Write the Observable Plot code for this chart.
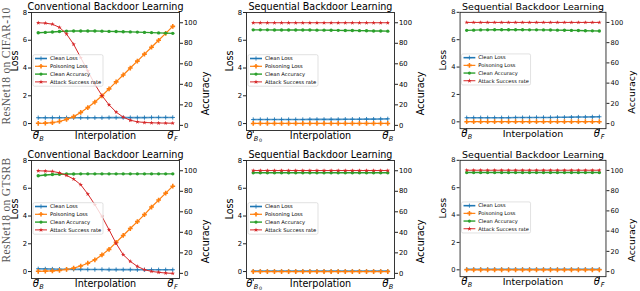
<!DOCTYPE html>
<html><head><meta charset="utf-8">
<script src="https://cdn.jsdelivr.net/npm/d3@7"></script>
<script src="https://cdn.jsdelivr.net/npm/@observablehq/plot@0.6"></script>
<style>
html,body{margin:0;padding:0;background:#fff;}
#wrap{position:relative;width:640px;height:291px;overflow:hidden;}
.panel{position:absolute;}
.rowlabel{position:absolute;font-family:"Liberation Serif";font-size:11.5px;color:#555;white-space:nowrap;transform:translate(-50%,-50%) rotate(-90deg);letter-spacing:0.3px;}
</style></head><body><div id="wrap"></div>
<script>
// ---- data ----
const steps = [0,1,2,3,4,5,6,7,8,9,10,11,12,13,14,15,16,17,18,19];
const seriesNames = ["Clean Loss","Poisoning Loss","Clean Accuracy","Attack Success rate"];
const colors = ["#1f77b4","#ff7f0e","#2ca02c","#d62728"];
const lossTicks = [0,2,4,6,8];
const accTicks = [0,20,40,60,80,100];
const rowLabels = ["ResNet18 on CIFAR-10","ResNet18 on GTSRB"];
const titles = ["Conventional Backdoor Learning","Sequential Backdoor Learning","Sequential Backdoor Learning"];
const xLabel = "Interpolation";

// CIFAR-10, conventional (θB -> θF)
const c1CleanLoss  = [0.42,0.42,0.42,0.42,0.42,0.42,0.42,0.42,0.42,0.42,0.43,0.43,0.43,0.43,0.43,0.43,0.44,0.44,0.44,0.44];
const c1PoisonLoss = [0.02,0.03,0.07,0.15,0.3,0.5,0.8,1.15,1.55,2.0,2.5,3.0,3.5,4.0,4.5,5.0,5.5,6.0,6.5,7.0];
const c1CleanAcc   = [90.2,90.6,91.0,91.5,91.8,92.0,92.0,92.0,91.9,91.8,91.6,91.5,91.3,91.1,90.9,90.6,90.4,90.1,89.9,89.7];
const c1ASR        = [100,99.6,98.6,95.5,89,79,66,53,40,29,20,13,8,5,3.5,2.8,2.5,2.3,2.2,2.1];
// CIFAR-10, sequential (θB0 -> θB)
const c2CleanLoss  = [0.29,0.29,0.29,0.29,0.29,0.29,0.29,0.29,0.3,0.3,0.3,0.3,0.3,0.31,0.31,0.31,0.32,0.32,0.33,0.34];
const c2PoisonLoss = [0.01,0.01,0.01,0.01,0.01,0.01,0.01,0.01,0.01,0.01,0.01,0.01,0.01,0.01,0.01,0.01,0.01,0.01,0.01,0.01];
const c2CleanAcc   = [93.1,93.1,93.1,93.0,93.0,93.0,93.0,92.9,92.9,92.8,92.8,92.7,92.6,92.5,92.4,92.3,92.2,92.0,91.9,91.8];
const c2ASR        = [100,100,100,100,100,100,100,100,100,100,100,100,100,100,100,100,100,100,100,100];
// CIFAR-10, sequential (θB -> θF)
const c3CleanLoss  = [0.3,0.3,0.3,0.3,0.3,0.3,0.3,0.31,0.31,0.31,0.32,0.32,0.32,0.33,0.33,0.34,0.35,0.35,0.36,0.37];
const c3PoisonLoss = [0.01,0.01,0.01,0.01,0.01,0.01,0.01,0.01,0.01,0.01,0.01,0.01,0.01,0.01,0.01,0.01,0.01,0.01,0.01,0.01];
const c3CleanAcc   = [92.2,92.4,92.6,92.7,92.8,92.8,92.8,92.8,92.8,92.7,92.7,92.6,92.5,92.4,92.3,92.1,92.0,91.8,91.7,91.5];
const c3ASR        = [100,100,100,100,100,100,100,100,100,100,100,100,100,100,100,100,100,100,100,100];
// GTSRB, conventional (θB -> θF)
const g1CleanLoss  = [0.2,0.19,0.18,0.17,0.17,0.16,0.16,0.15,0.15,0.15,0.14,0.14,0.14,0.14,0.13,0.13,0.13,0.13,0.13,0.13];
const g1PoisonLoss = [0.02,0.03,0.05,0.08,0.15,0.25,0.4,0.6,0.85,1.2,1.6,2.1,2.6,3.1,3.6,4.1,4.65,5.15,5.65,6.15];
const g1CleanAcc   = [95.2,95.8,96.3,96.6,96.8,96.9,97,97,97,97,97,97,97,97,97,97,97,97,97,97];
const g1ASR        = [100,99.7,99.4,98,95.5,91.9,86.4,77.3,66.9,55.5,42.5,29.2,18.2,11.7,6.8,3.6,1.9,1.0,0.3,0];
// GTSRB, sequential (θB0 -> θB)
const g2CleanLoss  = [0.03,0.03,0.03,0.03,0.03,0.03,0.03,0.03,0.03,0.03,0.03,0.03,0.03,0.03,0.03,0.03,0.03,0.03,0.03,0.03];
const g2PoisonLoss = [0.0,0.0,0.0,0.0,0.0,0.0,0.0,0.0,0.0,0.0,0.0,0.0,0.0,0.0,0.0,0.0,0.0,0.0,0.0,0.0];
const g2CleanAcc   = [98,98,98,98,98,98,98,98,98,98,98,98,98,98,98,98,98,98,98,98];
const g2ASR        = [100.2,100.2,100.2,100.2,100.2,100.2,100.2,100.2,100.2,100.2,100.2,100.2,100.2,100.2,100.2,100.2,100.2,100.2,100.2,100.2];
// GTSRB, sequential (θB -> θF)
const g3CleanLoss  = [0.04,0.04,0.04,0.04,0.04,0.04,0.04,0.04,0.04,0.04,0.04,0.04,0.04,0.04,0.04,0.04,0.04,0.04,0.04,0.04];
const g3PoisonLoss = [0.0,0.0,0.0,0.0,0.0,0.0,0.0,0.0,0.0,0.0,0.0,0.0,0.0,0.0,0.0,0.0,0.0,0.0,0.0,0.0];
const g3CleanAcc   = [97.9,97.9,97.9,97.9,97.9,97.9,97.9,97.9,97.9,97.9,97.9,97.9,97.9,97.9,97.9,97.9,97.9,97.9,97.9,97.9];
const g3ASR        = [100.2,100.2,100.2,100.2,100.2,100.2,100.2,100.2,100.2,100.2,100.2,100.2,100.2,100.2,100.2,100.2,100.2,100.2,100.2,100.2];

// ---- twin-axis mapping (accuracy drawn on the loss scale) ----
const LOSS_DOM = [-0.5, 8];
const ACC_DOM = [-5, 110];
const accToLoss = a => LOSS_DOM[0] + (a - ACC_DOM[0]) / (ACC_DOM[1] - ACC_DOM[0]) * (LOSS_DOM[1] - LOSS_DOM[0]);
const lossToAcc = l => ACC_DOM[0] + (l - LOSS_DOM[0]) / (LOSS_DOM[1] - LOSS_DOM[0]) * (ACC_DOM[1] - ACC_DOM[0]);

const FONT = "DejaVu Sans";
const W = 214, H = 145, ML = 31, MR = 35, MT = 12, MB = 15;

function theta(xv, sub, sub2) {
  const d = [{x: xv}];
  const common = {x: "x", frameAnchor: "bottom", lineAnchor: "bottom", fontStyle: "italic", fill: "black"};
  const marks = [
    Plot.text(d, {...common, text: () => "θ", dy: 8.5, dx: sub2 ? -4 : -2.5, fontSize: 10}),
    Plot.text(d, {...common, text: () => sub, dy: 10.5, dx: sub2 ? 2.8 : 3.2, fontSize: 6.5})
  ];
  if (sub2) marks.push(Plot.text(d, {...common, text: () => sub2, dy: 11.8, dx: 7.2, fontSize: 4.8, fontStyle: "normal"}));
  return marks;
}

function panel(title, vals, startL, endL) {
  const n = steps.length;
  const mk = (arr, conv) => steps.map((s, i) => ({x: s, y: conv ? accToLoss(arr[i]) : arr[i]}));
  const sets = [mk(vals[0]), mk(vals[1]), mk(vals[2], true), mk(vals[3], true)];
  const dotOpts = [
    {symbol: "plus", r: 1.5, stroke: colors[0], strokeWidth: 0.9, fill: "none"},
    {symbol: "cross", r: 2.0, fill: colors[1], stroke: "none"},
    {symbol: "circle", r: 1.7, fill: colors[2], stroke: "none"},
    {symbol: "star", r: 1.4, fill: colors[3], stroke: "none"}
  ];
  const lw = [1.6, 1.2, 1.4, 1.0];
  const marks = [];
  sets.forEach((s, k) => {
    marks.push(Plot.line(s, {x: "x", y: "y", stroke: colors[k], strokeWidth: lw[k], strokeOpacity: k === 0 ? 0.8 : 1}));
    marks.push(Plot.dot(s, {x: "x", y: "y", ...dotOpts[k]}));
  });
  const svg = Plot.plot({
    width: W, height: H, marginLeft: ML, marginRight: MR, marginTop: MT, marginBottom: MB,
    style: {background: "none", fontFamily: FONT, overflow: "visible", color: "black"},
    x: {domain: [-0.95, n - 1 + 0.95], axis: null},
    y: {domain: LOSS_DOM, axis: null},
    marks: [
      ...marks,
      Plot.frame({stroke: "#222", strokeWidth: 0.9}),
      Plot.axisY({anchor: "left", ticks: lossTicks, tickSize: 3, tickPadding: 1.5, fontSize: 6.8, label: null, stroke: "#222"}),
      Plot.axisY({anchor: "right", ticks: accTicks.map(accToLoss), tickFormat: d => Math.round(lossToAcc(d)), tickSize: 3, tickPadding: 1.5, fontSize: 6.8, label: null, stroke: "#222"}),
      Plot.axisX({anchor: "bottom", ticks: [steps[0], steps[n - 1]], tickFormat: () => "", tickSize: 3, label: null, stroke: "#222"}),
      Plot.text([title], {frameAnchor: "top", lineAnchor: "bottom", dy: -2.5, fontSize: 9.6}),
      Plot.text(["Loss"], {frameAnchor: "left", rotate: -90, dx: -17, fontSize: 9.6}),
      Plot.text(["Accuracy"], {frameAnchor: "right", rotate: -90, dx: 26, fontSize: 9.6}),
      Plot.text([xLabel], {frameAnchor: "bottom", lineAnchor: "bottom", dy: 8.3, fontSize: 9.6}),
      ...theta(steps[0], startL[0], startL[1]),
      ...theta(steps[n - 1], endL[0], endL[1])
    ]
  });
  // legend
  const g = d3.select(svg).append("g").attr("transform", `translate(${ML + 2},${MT + 42.7})`)
    .attr("text-anchor", "start");
  g.append("rect").attr("width", 70).attr("height", 31.5).attr("rx", 1.5)
    .attr("fill", "white").attr("fill-opacity", 0.8).attr("stroke", "#ccc").attr("stroke-width", 0.6);
  const syms = [d3.symbolPlus, d3.symbolCross, d3.symbolCircle, d3.symbolStar];
  const symSize = [7, 12, 8, 7];
  seriesNames.forEach((name, k) => {
    const yy = 3.8 + k * 7.8;
    g.append("line").attr("x1", 2).attr("x2", 14).attr("y1", yy).attr("y2", yy)
      .attr("stroke", colors[k]).attr("stroke-width", lw[k]);
    const p = g.append("path").attr("d", d3.symbol(syms[k], symSize[k])()).attr("transform", `translate(8,${yy})`);
    if (k === 0) p.attr("fill", "none").attr("stroke", colors[k]).attr("stroke-width", 0.8);
    else p.attr("fill", colors[k]);
    g.append("text").attr("x", 17).attr("y", yy).attr("dy", "0.35em").attr("font-size", 5.2)
      .attr("text-anchor", "start").attr("font-family", FONT).attr("fill", "black").text(name);
  });
  return svg;
}

const wrap = document.getElementById("wrap");
const layout = [
  {vals: [c1CleanLoss, c1PoisonLoss, c1CleanAcc, c1ASR], t: 0, s: ["B"], e: ["F"], left: 0, top: 0},
  {vals: [c2CleanLoss, c2PoisonLoss, c2CleanAcc, c2ASR], t: 1, s: ["B", "0"], e: ["B"], left: 215, top: 0},
  {vals: [c3CleanLoss, c3PoisonLoss, c3CleanAcc, c3ASR], t: 2, s: ["B"], e: ["F"], left: 429, top: 0},
  {vals: [g1CleanLoss, g1PoisonLoss, g1CleanAcc, g1ASR], t: 0, s: ["B"], e: ["F"], left: 0, top: 148},
  {vals: [g2CleanLoss, g2PoisonLoss, g2CleanAcc, g2ASR], t: 1, s: ["B", "0"], e: ["B"], left: 215, top: 148},
  {vals: [g3CleanLoss, g3PoisonLoss, g3CleanAcc, g3ASR], t: 2, s: ["B"], e: ["F"], left: 429, top: 148}
];
layout.forEach(p => {
  const div = document.createElement("div");
  div.className = "panel";
  div.style.left = p.left + "px";
  div.style.top = p.top + "px";
  div.appendChild(panel(titles[p.t], p.vals, p.s, p.e));
  wrap.appendChild(div);
});
rowLabels.forEach((t, i) => {
  const d = document.createElement("div");
  d.className = "rowlabel";
  d.textContent = t;
  d.style.left = "6px";
  d.style.top = (i === 0 ? 66 : 210) + "px";
  wrap.appendChild(d);
});
</script></body></html>
